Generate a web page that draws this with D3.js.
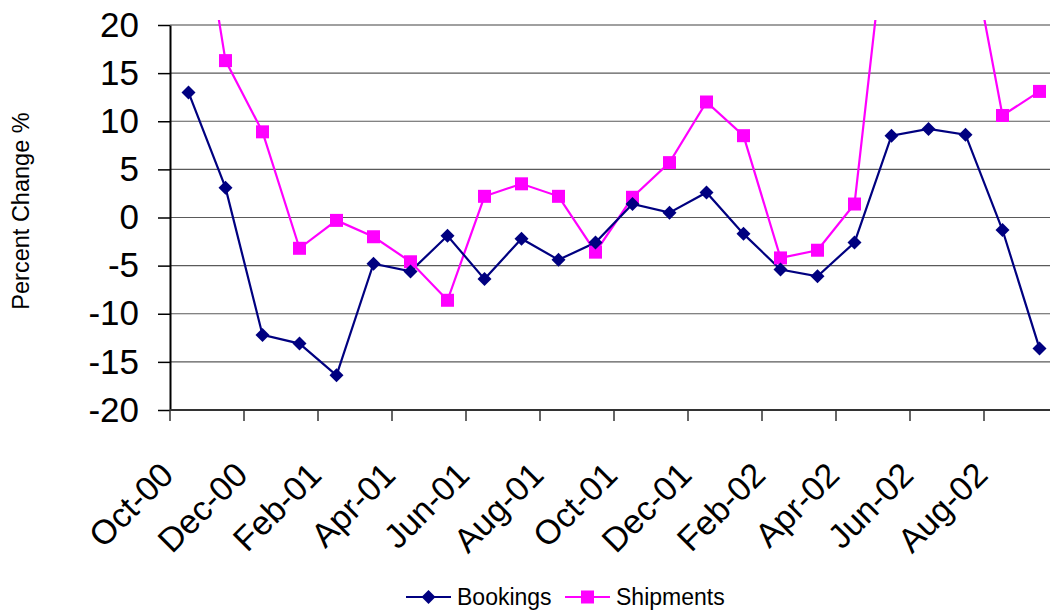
<!DOCTYPE html>
<html>
<head>
<meta charset="utf-8">
<script src="https://cdn.jsdelivr.net/npm/d3@7"></script>
<style>
  body { margin: 0; background: #fff; }
  svg { display: block; font-family: "Liberation Sans", Arial, sans-serif; }
</style>
</head>
<body>
<div id="my_dataviz"></div>
<script>
// Month categories (every other one gets a label)
const months = ["Oct-00","Nov-00","Dec-00","Jan-01","Feb-01","Mar-01","Apr-01","May-01",
                "Jun-01","Jul-01","Aug-01","Sep-01","Oct-01","Nov-01","Dec-01","Jan-02",
                "Feb-02","Mar-02","Apr-02","May-02","Jun-02","Jul-02","Aug-02","Sep-02"];
const tickLabels = ["Oct-00","Dec-00","Feb-01","Apr-01","Jun-01","Aug-01",
                    "Oct-01","Dec-01","Feb-02","Apr-02","Jun-02","Aug-02"];
const yTicks = [-20, -15, -10, -5, 0, 5, 10, 15, 20];

const bookings  = [13.0, 3.1, -12.2, -13.1, -16.4, -4.8, -5.6, -1.9, -6.4, -2.2, -4.4, -2.6,
                   1.4, 0.5, 2.6, -1.7, -5.4, -6.1, -2.6, 8.5, 9.2, 8.6, -1.3, -13.6];
const shipments = [40.0, 16.3, 8.9, -3.2, -0.3, -2.0, -4.6, -8.6, 2.2, 3.5, 2.2, -3.6,
                   2.1, 5.7, 12.0, 8.5, -4.2, -3.4, 1.4, 35.3, 38.0, 31.0, 10.6, 13.1];

const W = 1050, H = 613;
const margin = { top: 25, left: 170, bottom: 203 };
const bandW = 37;

const svg = d3.select("#my_dataviz")
  .append("svg")
  .attr("width", W)
  .attr("height", H);

const x = d3.scaleBand()
  .domain(months)
  .range([margin.left, margin.left + bandW * months.length]);

const y = d3.scaleLinear()
  .domain([-20, 20])
  .range([H - margin.bottom, margin.top]);

// gridlines
svg.append("g")
  .selectAll("line")
  .data(yTicks.filter(d => d > -20))
  .enter()
  .append("line")
  .attr("x1", margin.left)
  .attr("x2", W)
  .attr("y1", d => y(d))
  .attr("y2", d => y(d))
  .attr("stroke", d => d === 20 ? "#a0a0a0" : "#5a5a5a")
  .attr("stroke-width", d => d === 20 ? 2 : 1.2);

// y axis (plain hyphen for negatives, like the original)
const yAxis = svg.append("g")
  .attr("transform", `translate(${margin.left},0)`)
  .call(d3.axisLeft(y).tickValues(yTicks).tickFormat(d => String(d))
    .tickSize(12).tickPadding(19).tickSizeOuter(0));
yAxis.select(".domain").attr("stroke", "#000").attr("stroke-width", 2);
yAxis.selectAll(".tick line").attr("stroke", "#000").attr("stroke-width", 1.5);
yAxis.selectAll(".tick text")
  .attr("font-size", 35)
  .attr("font-family", "Liberation Sans, Arial, sans-serif")
  .attr("fill", "#000");

// x axis: ticks on band edges every two months
const edgeIdx = d3.range(0, months.length + 1, 2);
const xAxis = svg.append("g");
xAxis.append("line")
  .attr("x1", margin.left)
  .attr("x2", W)
  .attr("y1", y(-20))
  .attr("y2", y(-20))
  .attr("stroke", "#333")
  .attr("stroke-width", 2);
xAxis.selectAll("line.tk")
  .data(edgeIdx)
  .enter()
  .append("line")
  .attr("class", "tk")
  .attr("x1", i => margin.left + i * x.step())
  .attr("x2", i => margin.left + i * x.step())
  .attr("y1", y(-20))
  .attr("y2", y(-20) + 11)
  .attr("stroke", "#333")
  .attr("stroke-width", 1.5);
xAxis.selectAll("text")
  .data(tickLabels)
  .enter()
  .append("text")
  .attr("transform", d => `translate(${x(d) + x.bandwidth() / 2 - 13},477) rotate(-45)`)
  .attr("text-anchor", "end")
  .attr("font-size", 34)
  .attr("fill", "#000")
  .text(d => d);

// axis title
svg.append("text")
  .attr("transform", "translate(29,211) rotate(-90)")
  .attr("text-anchor", "middle")
  .attr("font-size", 23.5)
  .text("Percent Change %");

// clip for off-scale values
svg.append("clipPath")
  .attr("id", "plotclip")
  .append("rect")
  .attr("x", margin.left)
  .attr("y", 20)
  .attr("width", W - margin.left)
  .attr("height", H - margin.bottom - 20 + 6);

const cx = (d, i) => x(months[i]) + x.bandwidth() / 2;
const line = d3.line()
  .x(cx)
  .y(d => y(d));

const plot = svg.append("g").attr("clip-path", "url(#plotclip)");

plot.append("path")
  .datum(shipments)
  .attr("fill", "none")
  .attr("stroke", "#ff00ff")
  .attr("stroke-width", 2.2)
  .attr("d", line);

plot.append("path")
  .datum(bookings)
  .attr("fill", "none")
  .attr("stroke", "#000080")
  .attr("stroke-width", 2.2)
  .attr("d", line);

const diamond = (px, py, r) => `M${px},${py - r}L${px + r},${py}L${px},${py + r}L${px - r},${py}Z`;

plot.selectAll("rect.ship")
  .data(shipments)
  .enter()
  .append("rect")
  .attr("class", "ship")
  .attr("x", (d, i) => cx(d, i) - 6.5)
  .attr("y", d => y(d) - 6.5)
  .attr("width", 13)
  .attr("height", 13)
  .attr("fill", "#ff00ff");

plot.selectAll("path.book")
  .data(bookings)
  .enter()
  .append("path")
  .attr("class", "book")
  .attr("d", (d, i) => diamond(cx(d, i), y(d), 7))
  .attr("fill", "#000080");

// legend
const legend = svg.append("g").attr("font-size", 23);
legend.append("line")
  .attr("x1", 406).attr("x2", 451).attr("y1", 597).attr("y2", 597)
  .attr("stroke", "#000080").attr("stroke-width", 2.2);
legend.append("path")
  .attr("d", diamond(428.5, 597, 7))
  .attr("fill", "#000080");
legend.append("text").attr("x", 457).attr("y", 605).text("Bookings");

legend.append("line")
  .attr("x1", 565).attr("x2", 610).attr("y1", 597).attr("y2", 597)
  .attr("stroke", "#ff00ff").attr("stroke-width", 2.2);
legend.append("rect")
  .attr("x", 581).attr("y", 590.5).attr("width", 13).attr("height", 13)
  .attr("fill", "#ff00ff");
legend.append("text").attr("x", 616).attr("y", 605).text("Shipments");
</script>
</body>
</html>
